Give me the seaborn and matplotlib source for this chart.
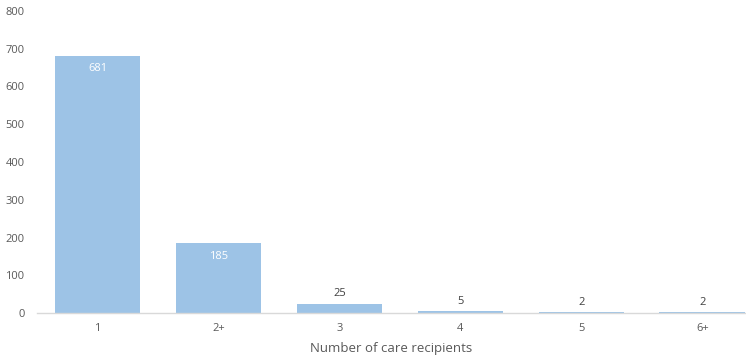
import matplotlib
matplotlib.use("Agg")
import matplotlib.pyplot as plt
import pandas as pd
import seaborn as sns

CATEGORIES = ["1", "2+", "3", "4", "5", "6+"]
COUNTS = [681, 185, 25, 5, 2, 2]
Y_TICKS = [0, 100, 200, 300, 400, 500, 600, 700, 800]

BAR_COLOR = "#9dc3e6"
TEXT_COLOR = "#595959"

sns.set_theme(style="white")
plt.rcParams["font.family"] = ["Open Sans", "DejaVu Sans"]

df = pd.DataFrame({"recipients": CATEGORIES, "count": COUNTS})

fig = plt.figure(figsize=(7.46, 3.58), dpi=100)
ax = fig.add_axes([37 / 746, 1 - 313 / 358, 1 - 37 / 746, (313 - 11) / 358])

sns.barplot(data=df, x="recipients", y="count", color=BAR_COLOR, width=0.71,
            saturation=1, linewidth=0, ax=ax)

ax.set_ylim(0, 800)
ax.set_xlim(-0.5, 5.36)
ax.set_yticks(Y_TICKS)
ax.tick_params(axis="both", length=0, labelsize=8, labelcolor=TEXT_COLOR, pad=7)
ax.tick_params(axis="y", pad=9)
ax.set_ylabel("")
ax.set_xlabel("Number of care recipients", fontsize=9.5, color=TEXT_COLOR, labelpad=6)

for side in ["top", "right", "left"]:
    ax.spines[side].set_visible(False)
ax.spines["bottom"].set_color("#d9d9d9")
ax.spines["bottom"].set_linewidth(1)

for i, v in enumerate(COUNTS):
    if v > 100:
        ax.text(i, v - 20, str(v), ha="center", va="top", fontsize=8, color="white")
    else:
        ax.text(i, v + 12, str(v), ha="center", va="bottom", fontsize=8, color="#404040")

fig.savefig("out.png", dpi=100)
